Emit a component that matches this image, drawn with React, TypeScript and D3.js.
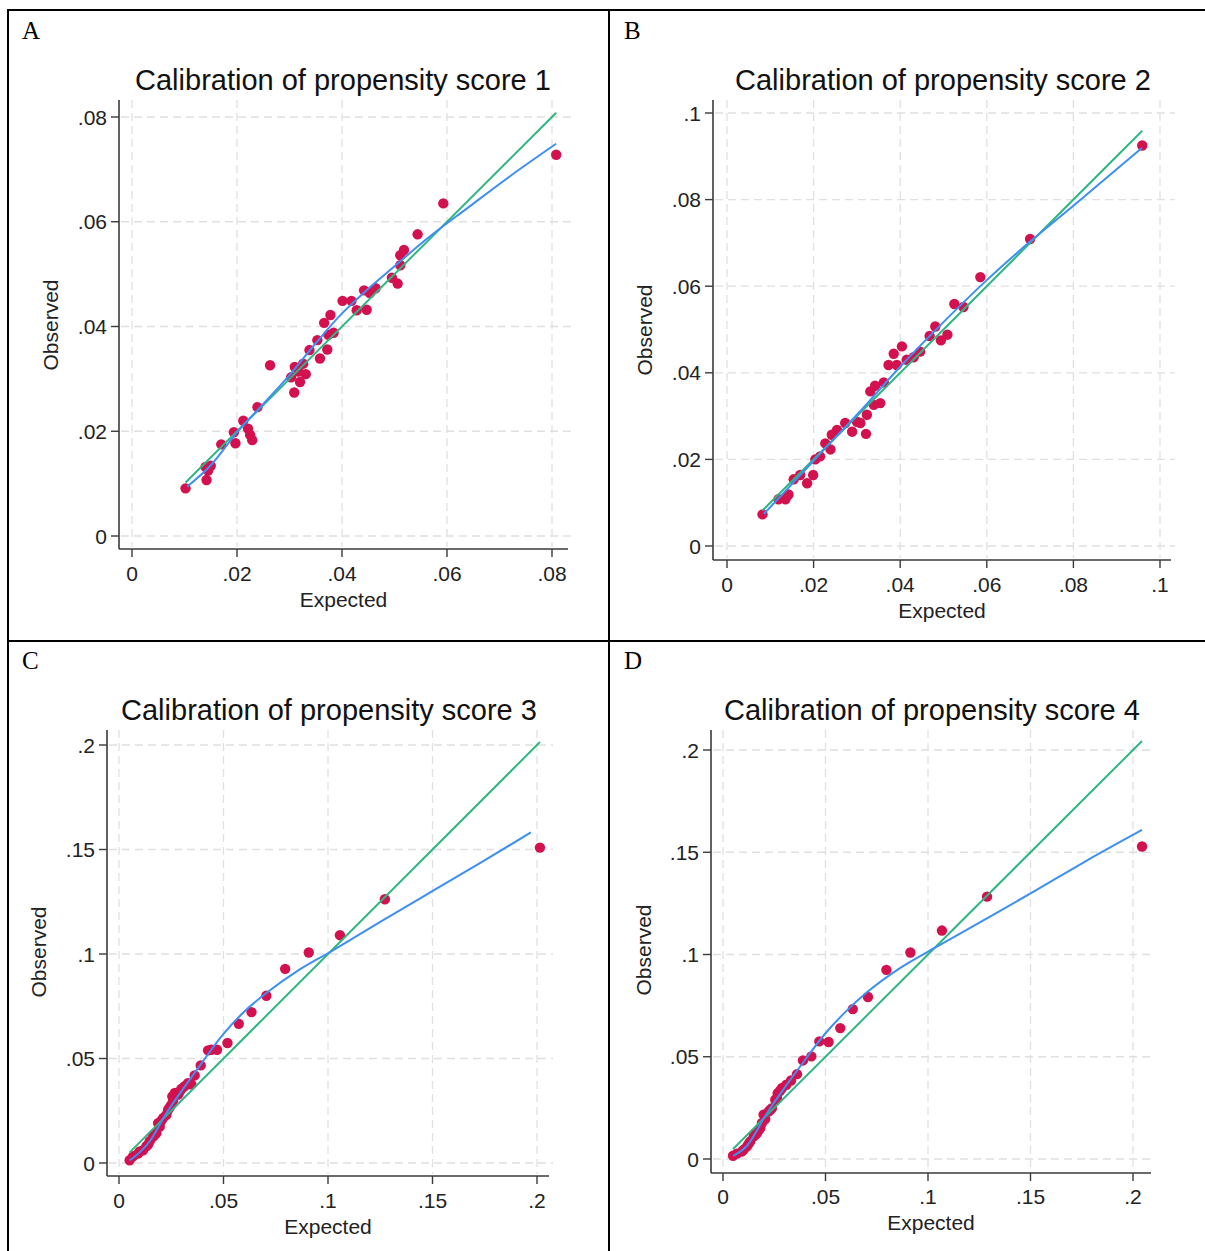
import React from "react";
import * as d3 from "d3";

// observed vs expected, one pair per group
const points1: [number, number][] = [
  [0.0102, 0.0091], [0.0142, 0.0107], [0.014, 0.0132], [0.015, 0.0134], [0.0145, 0.0125],
  [0.017, 0.0175], [0.0194, 0.0198], [0.0197, 0.0177], [0.0212, 0.022], [0.0221, 0.0205],
  [0.0225, 0.0193], [0.0229, 0.0183], [0.0239, 0.0246], [0.0263, 0.0326], [0.0309, 0.0274],
  [0.0303, 0.0303], [0.031, 0.0323], [0.032, 0.0294], [0.0326, 0.0329], [0.0331, 0.0309],
  [0.0317, 0.0314], [0.0338, 0.0355], [0.0358, 0.0339], [0.0353, 0.0374], [0.0372, 0.0356],
  [0.0374, 0.0384], [0.0384, 0.0388], [0.0366, 0.0407], [0.0378, 0.0422], [0.0401, 0.0449],
  [0.0418, 0.0449], [0.0428, 0.0431], [0.0447, 0.0432], [0.0442, 0.0469], [0.0453, 0.0464],
  [0.0464, 0.0473], [0.0495, 0.0493], [0.0506, 0.0482], [0.0511, 0.0517], [0.0511, 0.0536],
  [0.0518, 0.0546], [0.0544, 0.0576], [0.0593, 0.0635], [0.0808, 0.0728],
];
const smooth1: [number, number][] = [
  [0.0105, 0.0094], [0.015, 0.0135], [0.02, 0.0198], [0.025, 0.0252], [0.03, 0.0307],
  [0.035, 0.0368], [0.04, 0.0425], [0.045, 0.0472], [0.05, 0.0515], [0.056, 0.0566],
  [0.064, 0.0627], [0.072, 0.0687], [0.0808, 0.0749],
];

const points2: [number, number][] = [
  [0.0082, 0.0073], [0.0119, 0.0108], [0.0135, 0.0108], [0.0142, 0.0119], [0.0154, 0.0154],
  [0.0169, 0.0164], [0.0185, 0.0145], [0.0199, 0.0164], [0.0204, 0.02], [0.0215, 0.0207],
  [0.0227, 0.0237], [0.0239, 0.0223], [0.0242, 0.0257], [0.0254, 0.0268], [0.0273, 0.0284],
  [0.0289, 0.0264], [0.03, 0.0287], [0.0308, 0.0284], [0.0321, 0.0259], [0.0323, 0.0303],
  [0.0339, 0.0326], [0.0354, 0.033], [0.0331, 0.0357], [0.0342, 0.037], [0.0362, 0.0378],
  [0.0373, 0.0418], [0.0392, 0.0418], [0.0385, 0.0444], [0.0404, 0.0461], [0.0415, 0.043],
  [0.0431, 0.0436], [0.0446, 0.0449], [0.0468, 0.0485], [0.0481, 0.0507], [0.0494, 0.0475],
  [0.0509, 0.0488], [0.0525, 0.0559], [0.0546, 0.0552], [0.0585, 0.0621], [0.07, 0.0709],
  [0.0959, 0.0925],
];
const smooth2: [number, number][] = [
  [0.0085, 0.0074], [0.015, 0.0143], [0.02, 0.0197], [0.03, 0.0303], [0.04, 0.0414],
  [0.05, 0.0517], [0.06, 0.0614], [0.07, 0.0703], [0.08, 0.0786], [0.0958, 0.0919],
];

const points3: [number, number][] = [
  [0.0051, 0.0013], [0.0067, 0.0032], [0.0091, 0.0045], [0.0099, 0.0055], [0.0115, 0.0061],
  [0.0131, 0.008], [0.0139, 0.0088], [0.0147, 0.0104], [0.0163, 0.0127], [0.0171, 0.0135],
  [0.0179, 0.0143], [0.0195, 0.0174], [0.0187, 0.0191], [0.0203, 0.0203], [0.0211, 0.0215],
  [0.0227, 0.0231], [0.0235, 0.0255], [0.0243, 0.0267], [0.0251, 0.0279], [0.0255, 0.0319],
  [0.0259, 0.0299], [0.0267, 0.0335], [0.0283, 0.0327], [0.0291, 0.0343], [0.0299, 0.0355],
  [0.0314, 0.0367], [0.033, 0.0382], [0.0346, 0.0376], [0.0362, 0.0419], [0.0391, 0.0467],
  [0.0426, 0.0539], [0.0442, 0.0542], [0.0469, 0.0542], [0.0519, 0.0574], [0.0573, 0.0666],
  [0.0634, 0.0722], [0.0705, 0.08], [0.0795, 0.0929], [0.0908, 0.1007], [0.1057, 0.109],
  [0.1272, 0.1262], [0.2014, 0.1509],
];
const smooth3: [number, number][] = [
  [0.005, 0.0012], [0.0067, 0.0024], [0.0147, 0.0104], [0.0227, 0.0239], [0.03, 0.0345],
  [0.0386, 0.0465], [0.05, 0.0618], [0.06, 0.0725], [0.0705, 0.0813], [0.0865, 0.0926],
  [0.1025, 0.1018], [0.1264, 0.1162], [0.1503, 0.1303], [0.1743, 0.1444], [0.1971, 0.1582],
];

const points4: [number, number][] = [
  [0.0049, 0.0016], [0.0068, 0.0026], [0.0093, 0.0037], [0.0101, 0.0046], [0.0117, 0.0062],
  [0.0125, 0.0074], [0.0133, 0.0086], [0.015, 0.0111], [0.0158, 0.0119], [0.0166, 0.0127],
  [0.0174, 0.014], [0.0182, 0.0151], [0.019, 0.0176], [0.0198, 0.0217], [0.0206, 0.0195],
  [0.0223, 0.0233], [0.0231, 0.0241], [0.0239, 0.0249], [0.0255, 0.029], [0.0263, 0.0298],
  [0.0267, 0.0322], [0.0279, 0.0335], [0.0288, 0.0347], [0.0309, 0.0363], [0.0332, 0.0384],
  [0.0361, 0.0415], [0.039, 0.0482], [0.0431, 0.0502], [0.047, 0.0575], [0.0515, 0.0572],
  [0.0572, 0.064], [0.0633, 0.0733], [0.0707, 0.0792], [0.0797, 0.0925], [0.0914, 0.101],
  [0.1068, 0.1117], [0.1288, 0.1283], [0.2044, 0.1528],
];
const smooth4: [number, number][] = [
  [0.0049, 0.0015], [0.0117, 0.0065], [0.0215, 0.0225], [0.03, 0.0348], [0.0377, 0.0453],
  [0.05, 0.0615], [0.06, 0.0722], [0.0702, 0.0815], [0.0865, 0.0935], [0.1028, 0.103],
  [0.1272, 0.1168], [0.1515, 0.1307], [0.176, 0.1451], [0.2044, 0.1609],
];

const ticks1 = [0, 0.02, 0.04, 0.06, 0.08];
const tickLabels1 = ["0", ".02", ".04", ".06", ".08"];
const ticks2 = [0, 0.02, 0.04, 0.06, 0.08, 0.1];
const tickLabels2 = ["0", ".02", ".04", ".06", ".08", ".1"];
const ticks3 = [0, 0.05, 0.1, 0.15, 0.2];
const tickLabels3 = ["0", ".05", ".1", ".15", ".2"];

const titles = [
  "Calibration of propensity score 1",
  "Calibration of propensity score 2",
  "Calibration of propensity score 3",
  "Calibration of propensity score 4",
];
const letters = ["A", "B", "C", "D"];

// where each panel sits on the page
const layout = [
  { lx: 22, ly: 39, left: 119, right: 572, top: 100, bottom: 549, xr: [132, 552], yr: [536, 117], tx: 343, ty: 90, xlab: 581, xt: 607, ox: 58, oy: 325 },
  { lx: 624, ly: 39, left: 713, right: 1175, top: 100, bottom: 560, xr: [727, 1160], yr: [546, 113], tx: 943, ty: 90, xlab: 592, xt: 618, ox: 652, oy: 330 },
  { lx: 22, ly: 669, left: 107, right: 553, top: 730, bottom: 1176, xr: [119, 537], yr: [1163, 745], tx: 329, ty: 720, xlab: 1208, xt: 1234, ox: 46, oy: 952 },
  { lx: 624, ly: 669, left: 711, right: 1155, top: 730, bottom: 1173, xr: [723, 1133], yr: [1159, 750], tx: 932, ty: 720, xlab: 1204, xt: 1230, ox: 651, oy: 950 },
];

const panels = [
  { points: points1, smooth: smooth1, ticks: ticks1, labels: tickLabels1 },
  { points: points2, smooth: smooth2, ticks: ticks2, labels: tickLabels2 },
  { points: points3, smooth: smooth3, ticks: ticks3, labels: tickLabels3 },
  { points: points4, smooth: smooth4, ticks: ticks3, labels: tickLabels3 },
];

const sans = "'Liberation Sans', Arial, sans-serif";
const dotColor = "#d3114f";
const greenColor = "#2fb681";
const blueColor = "#3d8ff2";
const axisColor = "#3a3a3a";
const gridColor = "#e0e0e0";

const Panel = ({ i }: { i: number }) => {
  const p = panels[i];
  const L = layout[i];
  const dMax = p.ticks[p.ticks.length - 1];
  const x = d3.scaleLinear().domain([0, dMax]).range(L.xr);
  const y = d3.scaleLinear().domain([0, dMax]).range(L.yr);

  const smoothLine = d3
    .line<[number, number]>()
    .x((d) => x(d[0]))
    .y((d) => y(d[1]))
    .curve(d3.curveMonotoneX);

  const xs = p.points.map((d) => d[0]);
  const lo = d3.min(xs) as number;
  const hi = d3.max(xs) as number;

  return (
    <g>
      <text x={L.lx} y={L.ly} fontFamily="'Liberation Serif', 'Times New Roman', serif" fontSize={25}>
        {letters[i]}
      </text>
      <text x={L.tx} y={L.ty} textAnchor="middle" fontFamily={sans} fontSize={29} fill="#111">
        {titles[i]}
      </text>

      {/* grid */}
      {p.ticks.map((t) => (
        <line key={"gy" + t} x1={L.left + 2} x2={L.right} y1={y(t)} y2={y(t)} stroke={gridColor} strokeWidth={1.3} strokeDasharray="8 5" />
      ))}
      {p.ticks.map((t) => (
        <line key={"gx" + t} x1={x(t)} x2={x(t)} y1={L.top} y2={L.bottom - 2} stroke={gridColor} strokeWidth={1.3} strokeDasharray="8 5" />
      ))}

      {/* axes */}
      <line x1={L.left} x2={L.left} y1={L.top} y2={L.bottom} stroke={axisColor} strokeWidth={1.6} />
      <line x1={L.left} x2={L.right - 4} y1={L.bottom} y2={L.bottom} stroke={axisColor} strokeWidth={1.6} />
      {p.ticks.map((t, k) => (
        <g key={"ty" + t}>
          <line x1={L.left - 8} x2={L.left} y1={y(t)} y2={y(t)} stroke={axisColor} strokeWidth={1.4} />
          <text x={L.left - 12} y={y(t) + 7.5} textAnchor="end" fontFamily={sans} fontSize={21} fill="#222">
            {p.labels[k]}
          </text>
        </g>
      ))}
      {p.ticks.map((t, k) => (
        <g key={"tx" + t}>
          <line x1={x(t)} x2={x(t)} y1={L.bottom} y2={L.bottom + 8} stroke={axisColor} strokeWidth={1.4} />
          <text x={x(t)} y={L.xlab} textAnchor="middle" fontFamily={sans} fontSize={21} fill="#222">
            {p.labels[k]}
          </text>
        </g>
      ))}
      <text x={(L.left + L.right) / 2 - 2} y={L.xt} textAnchor="middle" fontFamily={sans} fontSize={21} fill="#222">
        Expected
      </text>
      <text
        transform={`translate(${L.ox},${L.oy}) rotate(-90)`}
        textAnchor="middle"
        fontFamily={sans}
        fontSize={21}
        fill="#222"
      >
        Observed
      </text>

      {/* points */}
      {p.points.map((d, k) => (
        <circle key={k} cx={x(d[0])} cy={y(d[1])} r={5.2} fill={dotColor} />
      ))}

      {/* reference diagonal and smoother */}
      <line x1={x(lo)} y1={y(lo)} x2={x(hi)} y2={y(hi)} stroke={greenColor} strokeWidth={2} />
      <path d={smoothLine(p.smooth) || ""} fill="none" stroke={blueColor} strokeWidth={2} />
    </g>
  );
};

export default function App() {
  return (
    <svg
      width={1205}
      height={1251}
      style={{ position: "absolute", left: 0, top: 0, background: "#fff" }}
    >
      <rect x={0} y={0} width={1205} height={1251} fill="#fff" />
      {[0, 1, 2, 3].map((i) => (
        <Panel key={i} i={i} />
      ))}
      {/* table borders */}
      <line x1={8} x2={8} y1={9} y2={1251} stroke="#000" strokeWidth={2} />
      <line x1={609} x2={609} y1={9} y2={1251} stroke="#000" strokeWidth={2} />
      <line x1={7} x2={1205} y1={10} y2={10} stroke="#000" strokeWidth={2} />
      <line x1={7} x2={1205} y1={641} y2={641} stroke="#000" strokeWidth={2} />
    </svg>
  );
}
